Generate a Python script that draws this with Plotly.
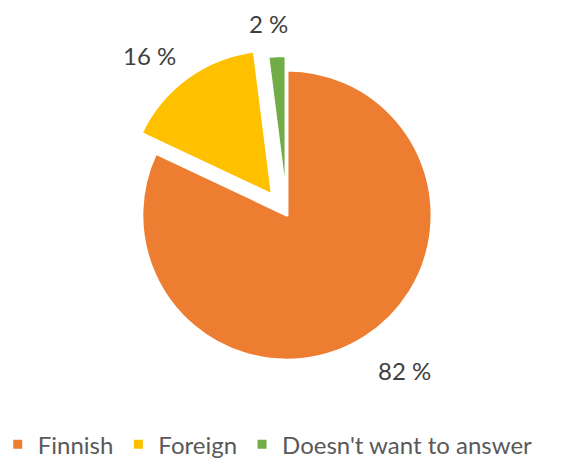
import plotly.graph_objects as go

labels = ["Finnish", "Foreign", "Doesn't want to answer"]
values = [82, 16, 2]
colors = ["#ED7D31", "#FFC000", "#70AD47"]
pulls = [0, 0.17, 0.1]

# centre of each percentage label (paper coords)
label_pos = [(0.7155, 0.191), (0.265, 0.878), (0.4735, 0.948)]

fig = go.Figure(
    go.Pie(
        labels=labels,
        values=values,
        marker=dict(colors=colors, line=dict(color="white", width=3)),
        pull=pulls,
        sort=False,
        direction="clockwise",
        rotation=0,
        textinfo="none",
        hoverinfo="label+percent",
        domain=dict(x=[0.207, 0.807], y=[0.159, 0.902]),
    )
)

for (x, y), v in zip(label_pos, values):
    fig.add_annotation(
        x=x, y=y, xref="paper", yref="paper",
        xanchor="center", yanchor="middle",
        text=f"{v} %", showarrow=False,
        font=dict(family="Lato", size=24, color="#404040"),
    )

fig.update_layout(
    width=566,
    height=458,
    margin=dict(l=0, r=0, t=0, b=0, autoexpand=False),
    paper_bgcolor="white",
    plot_bgcolor="white",
    showlegend=True,
    legend=dict(
        orientation="h",
        x=-0.004, xanchor="left",
        y=-0.02, yanchor="bottom",
        font=dict(family="Lato", size=24, color="#595959"),
        traceorder="normal",
    ),
)

fig.write_html("out.html")
